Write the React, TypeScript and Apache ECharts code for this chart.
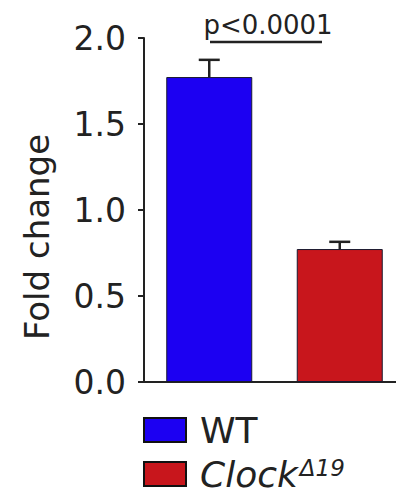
import React, { useEffect, useRef } from "react";
import * as echarts from "echarts";

const categories = ["WT", "Clock"];
const means = [1.773, 0.773];
const errors = [0.1, 0.042];
const colors = ["#1c00f2", "#c8161c"];
const pLabel = "p<0.0001";
const yName = "Fold change";

const FONT = "DejaVu Sans";

export default function App() {
  const ref = useRef<HTMLDivElement>(null);
  useEffect(() => {
    if (!ref.current) return;
    const chart = echarts.init(ref.current, null, { renderer: "svg" });
    const barSeries = categories.map((name, i) => ({
      name,
      type: "bar",
      stack: "s",
      barWidth: 86,
      data: categories.map((_, j) => (j === i ? means[j] : "-")),
      itemStyle: { color: colors[i], borderColor: "#1a1a30", borderWidth: 1 },
      z: 2,
    }));
    const legendTops = [412, 456];
    const legends = categories.map((name, i) => ({
      data: [name],
      orient: "vertical",
      left: 143,
      top: legendTops[i],
      padding: 0,
      icon: "rect",
      itemWidth: 42,
      itemHeight: 24,
      itemStyle: { borderColor: "#111", borderWidth: 2 },
      textStyle: {
        fontSize: 36,
        lineHeight: 36,
        fontFamily: FONT,
        color: "#222",
        padding: [0, 0, 0, 9],
        rich: {
          i: { fontSize: 36, lineHeight: 36, fontFamily: FONT, fontStyle: "italic", color: "#222" },
          s: {
            fontSize: 23,
            lineHeight: 20,
            fontFamily: FONT,
            fontStyle: "italic",
            color: "#222",
            verticalAlign: "top",
            padding: [0, 0, 0, 2],
          },
        },
      },
      formatter: (n: string) => (n === "Clock" ? "{i|Clock}{s|Δ19}" : n),
    }));
    chart.setOption({
      animation: false,
      grid: { left: 144, top: 38, width: 261, height: 344, outerBoundsMode: "none", containLabel: false },
      xAxis: {
        type: "category",
        data: categories,
        axisLine: { lineStyle: { color: "#222", width: 2 } },
        axisTick: { show: false },
        axisLabel: { show: false },
      },
      yAxis: {
        type: "value",
        min: 0,
        max: 2,
        interval: 0.5,
        splitLine: { show: false },
        axisLine: { show: true, lineStyle: { color: "#222", width: 2 } },
        axisTick: { show: true, length: 6, lineStyle: { color: "#222", width: 2 } },
        axisLabel: {
          fontSize: 33,
          fontFamily: FONT,
          color: "#222",
          margin: 18,
          formatter: (v: number) => v.toFixed(1),
        },
      },
      legend: legends,
      graphic: [
        {
          type: "text",
          x: 37,
          y: 237,
          rotation: Math.PI / 2,
          style: {
            text: yName,
            fontSize: 34,
            fontFamily: FONT,
            fill: "#222",
            align: "center",
            verticalAlign: "middle",
          },
        },
        {
          type: "text",
          x: 268,
          y: 25,
          style: {
            text: pLabel,
            fontSize: 26,
            fontFamily: FONT,
            fill: "#222",
            align: "center",
            verticalAlign: "middle",
          },
        },
        {
          type: "line",
          shape: { x1: 210, y1: 42, x2: 322, y2: 42 },
          style: { stroke: "#222", lineWidth: 2.5 },
        },
      ],
      series: [
        ...barSeries,
        {
          type: "custom",
          z: 5,
          data: categories.map((_, i) => [i, means[i], errors[i]]),
          renderItem: (params: any, api: any) => {
            const x = api.value(0);
            const y = api.value(1);
            const e = api.value(2);
            const top = api.coord([x, y + e]);
            const base = api.coord([x, y]);
            const half = 10.5;
            const style = { stroke: "#222", lineWidth: 2.5 };
            return {
              type: "group",
              children: [
                { type: "line", shape: { x1: top[0], y1: top[1], x2: base[0], y2: base[1] }, style },
                { type: "line", shape: { x1: top[0] - half, y1: top[1], x2: top[0] + half, y2: top[1] }, style },
              ],
            };
          },
        },
      ],
    });
    return () => chart.dispose();
  }, []);
  return (
    <div
      ref={ref}
      style={{ position: "fixed", left: 0, top: 0, width: 396, height: 495, background: "#fff" }}
    />
  );
}
